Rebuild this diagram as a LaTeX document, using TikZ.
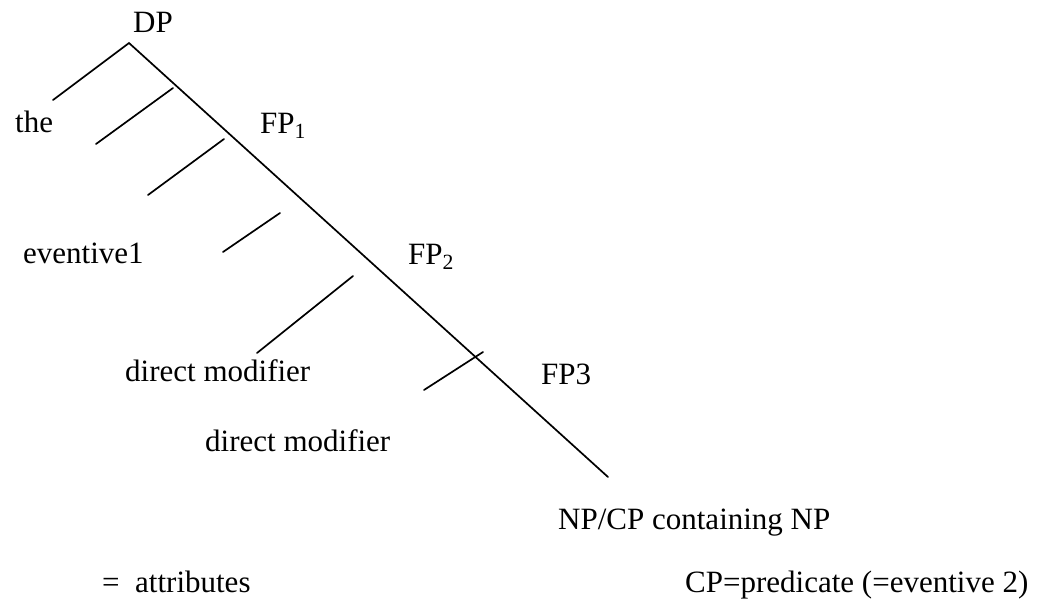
\documentclass[tikz,border=0pt]{standalone}
\usepackage{fontspec}
\setmainfont{Liberation Serif}
\begin{document}
\begin{tikzpicture}[x=1pt,y=-1pt,
  lbl/.style={anchor=base west, inner sep=0pt, font=\fontsize{31}{36}\selectfont},
  br/.style={line width=1.7pt, line cap=round}]
\useasboundingbox (0,0) rectangle (1044,611);
% tree coordinates
\coordinate (top) at (129,43);
\coordinate (bot) at (608,477);
\coordinate (theend) at (53,100);
\coordinate (s1a) at (173,88);  \coordinate (s1b) at (96,144);
\coordinate (s2a) at (224,139); \coordinate (s2b) at (148,195);
\coordinate (s3a) at (280,213); \coordinate (s3b) at (223,252);
\coordinate (s4a) at (353,276); \coordinate (s4b) at (257,353);
\coordinate (s5a) at (483,352); \coordinate (s5b) at (424,390);
\draw[br] (theend) -- (top) -- (bot);
\draw[br] (s1a) -- (s1b);
\draw[br] (s2a) -- (s2b);
\draw[br] (s3a) -- (s3b);
\draw[br] (s4a) -- (s4b);
\draw[br] (s5a) -- (s5b);
% labels
\node[lbl] (dp) at (133,32) {DP};
\node[lbl] (the) at (15,132) {the};
\node[lbl] (fp1) at (260,133) {FP\textsubscript{1}};
\node[lbl] (ev1) at (23,263) {eventive1};
\node[lbl] (fp2) at (408,264) {FP\textsubscript{2}};
\node[lbl] (dm1) at (125,381) {direct modifier};
\node[lbl] (fp3) at (541,384) {FP3};
\node[lbl] (dm2) at (205,451) {direct modifier};
\node[lbl] (np) at (558,529) {NP/CP containing NP};
\node[lbl] (attr) at (102,592) {=\ \ attributes};
\node[lbl] (cp) at (685,592) {CP=predicate (=eventive 2)};
\end{tikzpicture}
\end{document}
